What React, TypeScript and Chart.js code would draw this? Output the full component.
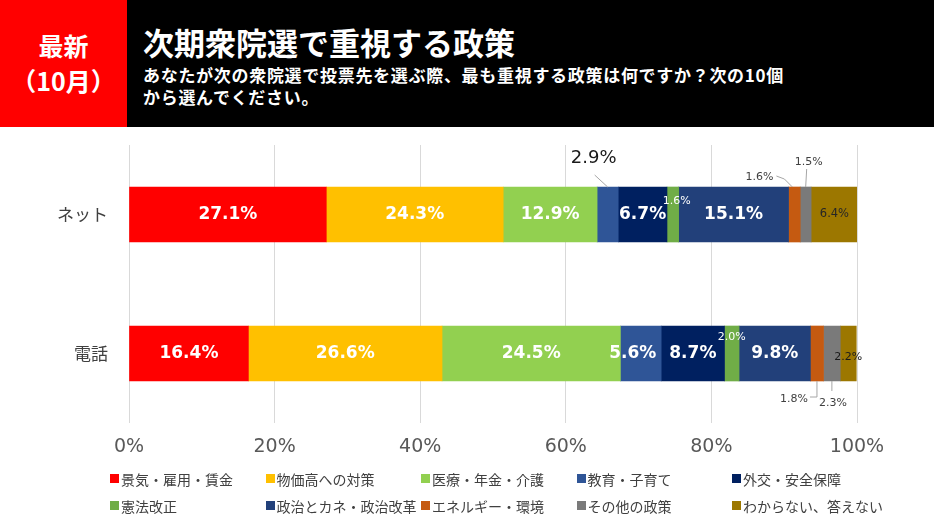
import React, { useEffect, useRef } from 'react';
import { Chart, registerables } from 'chart.js';

Chart.register(...registerables);

// ---------- data ----------
const categories = ['ネット', '電話'];
const seriesNames = [
  '景気・雇用・賃金',
  '物価高への対策',
  '医療・年金・介護',
  '教育・子育て',
  '外交・安全保障',
  '憲法改正',
  '政治とカネ・政治改革',
  'エネルギー・環境',
  'その他の政策',
  'わからない、答えない',
];
const netValues = [27.1, 24.3, 12.9, 2.9, 6.7, 1.6, 15.1, 1.6, 1.5, 6.4];
const phoneValues = [16.4, 26.6, 24.5, 5.6, 8.7, 2.0, 9.8, 1.8, 2.3, 2.2];
const xTickValues = [0, 20, 40, 60, 80, 100];

// ---------- styles ----------
const seriesColors = [
  '#FF0000',
  '#FFC000',
  '#92D050',
  '#2F5597',
  '#002060',
  '#70AD47',
  '#22407A',
  '#C55A11',
  '#7A7A7A',
  '#9C7700',
];

const JP = '"Noto Sans CJK JP", "Noto Sans", sans-serif';
const NUM = '"DejaVu Sans", sans-serif';

type LabelStyle = {
  size?: number;
  color?: string;
  weight?: string;
  dx?: number;
  dy?: number;
  anchor?: 'center' | 'top' | 'bottom';
  leader?: number[][];
};

const big: LabelStyle = { size: 17, color: '#ffffff', weight: 'bold' };
// labelStyles[category][series]
const labelStyles: LabelStyle[][] = [
  [
    big,
    big,
    big,
    { size: 18, color: '#1a1a1a', weight: 'normal', anchor: 'top', dx: -14, dy: -29, leader: [[0, 0], [-13, -12]] },
    big,
    { size: 11, color: '#ffffff', weight: 'normal', dx: 4, dy: -13 },
    big,
    { size: 11, color: '#404040', weight: 'normal', anchor: 'top', dx: -35, dy: -10, leader: [[-2, 0], [-10, -8], [-18, -11]] },
    { size: 11, color: '#404040', weight: 'normal', anchor: 'top', dx: 3, dy: -25, leader: [[0, 0], [1, -18]] },
    { size: 11.5, color: '#262626', weight: 'normal' },
  ],
  [
    big,
    big,
    big,
    { ...big, dx: -8 },
    big,
    { size: 11, color: '#ffffff', weight: 'normal', dy: -16 },
    big,
    { size: 11, color: '#404040', weight: 'normal', anchor: 'bottom', dx: -23, dy: 18, leader: [[0, 0], [0, 16], [-7, 16]] },
    { size: 11, color: '#404040', weight: 'normal', anchor: 'bottom', dx: 1, dy: 22, leader: [[0, 0], [0, 10]] },
    { size: 11, color: '#1a1a1a', weight: 'normal', dy: 4 },
  ],
];

const labelPlugin = {
  id: 'segmentLabels',
  afterDatasetsDraw(chart: any) {
    const ctx = chart.ctx;
    ctx.save();
    chart.data.datasets.forEach((ds: any, i: number) => {
      const meta = chart.getDatasetMeta(i);
      meta.data.forEach((el: any, j: number) => {
        const v = ds.data[j];
        const st = labelStyles[j][i];
        const p = el.getProps(['x', 'y', 'base', 'height'], true);
        const cx = (p.x + p.base) / 2;
        const top = p.y - p.height / 2;
        const bottom = p.y + p.height / 2;
        const anchor = st.anchor || 'center';
        const ay = anchor === 'top' ? top : anchor === 'bottom' ? bottom : p.y;
        if (st.leader) {
          ctx.strokeStyle = '#A6A6A6';
          ctx.lineWidth = 1;
          ctx.beginPath();
          st.leader.forEach((pt, k) => {
            const px = cx + pt[0];
            const py = ay + pt[1];
            if (k === 0) ctx.moveTo(px, py);
            else ctx.lineTo(px, py);
          });
          ctx.stroke();
        }
        ctx.fillStyle = st.color || '#fff';
        ctx.font = `${st.weight || 'normal'} ${st.size || 12}px ${NUM}`;
        ctx.textAlign = 'center';
        ctx.textBaseline = 'middle';
        ctx.fillText(v.toFixed(1) + '%', cx + (st.dx || 0), ay + (st.dy || 0));
      });
    });
    ctx.restore();
  },
};

export default function App() {
  const ref = useRef<HTMLCanvasElement | null>(null);

  useEffect(() => {
    if (!ref.current) return;
    const chart = new Chart(ref.current, {
      type: 'bar',
      data: {
        labels: categories,
        datasets: seriesNames.map((name, i) => ({
          label: name,
          data: [netValues[i], phoneValues[i]],
          backgroundColor: seriesColors[i],
          borderWidth: 0,
          barThickness: 55,
        })),
      },
      options: {
        indexAxis: 'y',
        responsive: false,
        animation: false,
        devicePixelRatio: 1,
        layout: { padding: { top: 145, right: 77, left: 0, bottom: 0 } },
        plugins: {
          legend: { display: false },
          tooltip: { enabled: false },
        },
        scales: {
          x: {
            stacked: true,
            min: 0,
            max: 100,
            afterBuildTicks: (scale: any) => {
              scale.ticks = xTickValues.map((v) => ({ value: v }));
            },
            afterFit: (scale: any) => {
              scale.height = 102;
            },
            grid: { color: '#D9D9D9', lineWidth: 1, drawTicks: false },
            border: { display: false },
            ticks: {
              padding: 13,
              color: '#595959',
              font: { family: NUM, size: 19 },
              callback: (v: any) => v + '%',
              maxRotation: 0,
            },
          },
          y: {
            stacked: true,
            afterFit: (scale: any) => {
              scale.width = 129;
            },
            grid: { display: false },
            border: { display: false },
            ticks: {
              padding: 13,
              color: '#404040',
              font: { family: JP, size: 17 },
            },
          },
        },
      },
      plugins: [labelPlugin],
    } as any);
    return () => chart.destroy();
  }, []);

  return (
    <div style={{ position: 'relative', width: 934, height: 525, background: '#fff', overflow: 'hidden' }}>
      <style>{`body{margin:0;}`}</style>
      <canvas ref={ref} width={934} height={525} style={{ position: 'absolute', left: 0, top: 0, width: 934, height: 525 }} />
      <div style={{ position: 'absolute', left: 0, top: 0, width: 934, height: 127, background: '#000' }} />
      <div style={{ position: 'absolute', left: 0, top: 0, width: 127, height: 127, background: '#FF0000' }} />
      <div style={{ position: 'absolute', left: 0, top: 30, width: 127, textAlign: 'center', color: '#fff', fontFamily: JP, fontWeight: 'bold', fontSize: 25, lineHeight: '30px' }}>最新</div>
      <div style={{ position: 'absolute', left: 0, top: 65, width: 127, textAlign: 'center', color: '#fff', fontFamily: JP, fontWeight: 'bold', fontSize: 25, lineHeight: '30px' }}>（10月）</div>
      <div style={{ position: 'absolute', left: 143, top: 24, color: '#fff', fontFamily: JP, fontWeight: 'bold', fontSize: 31, lineHeight: '36px', whiteSpace: 'nowrap' }}>次期衆院選で重視する政策</div>
      <div style={{ position: 'absolute', left: 143, top: 64, color: '#fff', fontFamily: JP, fontWeight: 'bold', fontSize: 17, lineHeight: '22px', letterSpacing: '0.7px', whiteSpace: 'nowrap' }}>
        あなたが次の衆院選で投票先を選ぶ際、最も重視する政策は何ですか？次の10個
        <br />
        から選んでください。
      </div>
      <div
        style={{
          position: 'absolute',
          left: 110,
          top: 465,
          display: 'grid',
          gridTemplateColumns: 'repeat(5, 155.5px)',
          gridAutoRows: '27px',
        }}
      >
        {seriesNames.map((n, i) => (
          <div key={n} style={{ display: 'flex', alignItems: 'center', fontFamily: JP, fontSize: 14, color: '#404040', whiteSpace: 'nowrap' }}>
            <span style={{ display: 'inline-block', width: 9, height: 9, background: seriesColors[i], marginRight: 2, flex: 'none' }} />
            {n}
          </div>
        ))}
      </div>
    </div>
  );
}
